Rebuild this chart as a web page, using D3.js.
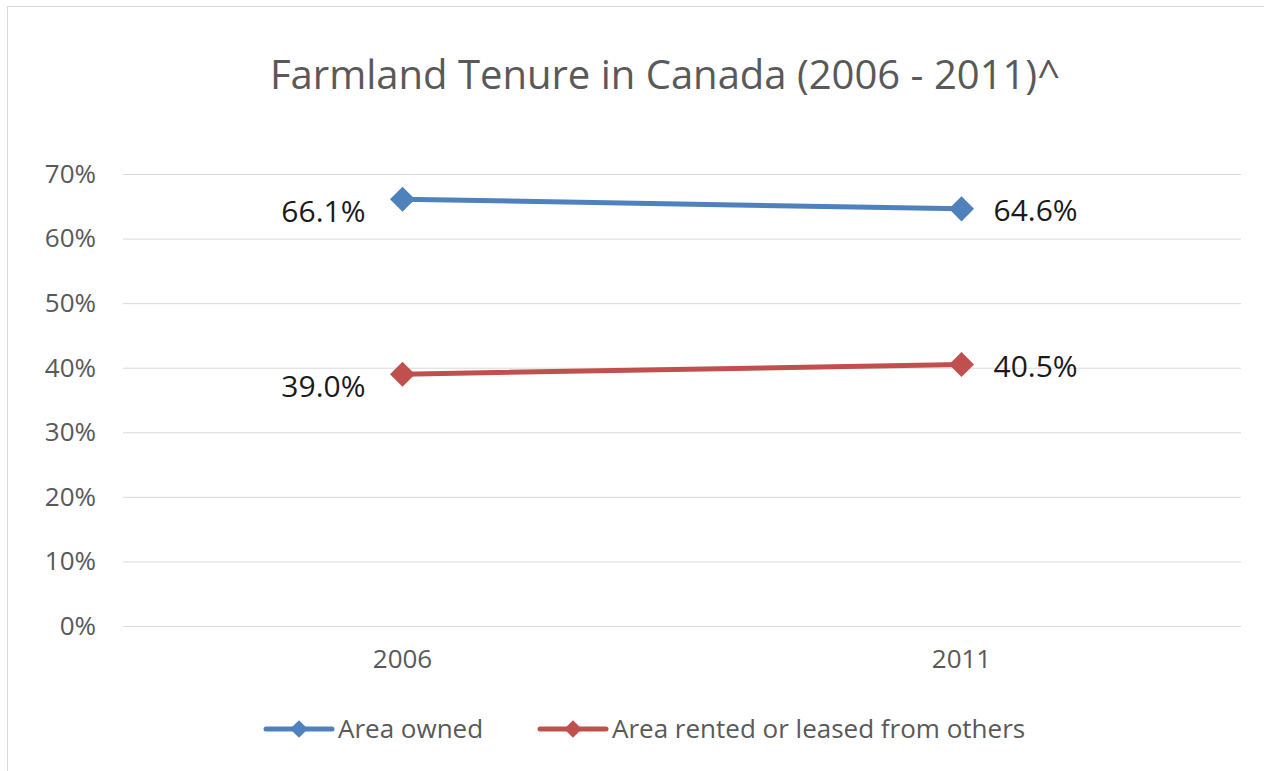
<!DOCTYPE html>
<html>
<head>
<meta charset="utf-8">
<script src="https://cdn.jsdelivr.net/npm/d3@7"></script>
<style>
  body { margin: 0; background: #fff; }
  svg text { font-family: "Open Sans", sans-serif; }
  .axis-label { fill: #595959; font-size: 26px; }
  .data-label { fill: #1a1a1a; font-size: 30px; }
  .chart-title { fill: #595959; font-size: 40px; }
</style>
</head>
<body>
<svg id="chart"></svg>
<script>
const years = ['2006', '2011'];
const ownedValues = [0.661, 0.646];
const rentedValues = [0.390, 0.405];
const seriesNames = ['Area owned', 'Area rented or leased from others'];
const yTicks = [0, 0.1, 0.2, 0.3, 0.4, 0.5, 0.6, 0.7];

class TenureLineChart {

  constructor(_config) {
    this.config = {
      parentElement: _config.parentElement,
      containerWidth: 1264,
      containerHeight: 771,
      margin: {top: 174, right: 23, bottom: 145, left: 123},
      colors: ['#4F81BD', '#C0504D']
    };
    this.initVis();
  }

  initVis() {
    let vis = this;

    vis.width = vis.config.containerWidth - vis.config.margin.left - vis.config.margin.right;
    vis.height = vis.config.containerHeight - vis.config.margin.top - vis.config.margin.bottom;

    vis.svg = d3.select(vis.config.parentElement)
        .attr('width', vis.config.containerWidth)
        .attr('height', vis.config.containerHeight);

    // chart area outline (right and bottom edges run off the picture)
    vis.svg.append('rect')
        .attr('x', 7.5)
        .attr('y', 6.5)
        .attr('width', 1300)
        .attr('height', 800)
        .attr('fill', 'none')
        .attr('stroke', '#d9d9d9');

    vis.svg.append('text')
        .attr('class', 'chart-title')
        .attr('x', 665)
        .attr('y', 89)
        .attr('text-anchor', 'middle')
        .text('Farmland Tenure in Canada (2006 - 2011)^');

    vis.chart = vis.svg.append('g')
        .attr('transform', `translate(${vis.config.margin.left},${vis.config.margin.top})`);

    vis.xScale = d3.scaleBand()
        .domain(years)
        .range([0, vis.width]);

    vis.yScale = d3.scaleLinear()
        .domain([0, 0.7])
        .range([vis.height, 0]);

    vis.yAxis = d3.axisLeft(vis.yScale)
        .tickValues(yTicks)
        .tickFormat(d3.format('.0%'))
        .tickSize(-vis.width)
        .tickPadding(27);

    vis.xAxis = d3.axisBottom(vis.xScale)
        .tickSize(0)
        .tickPadding(24);

    vis.yAxisG = vis.chart.append('g').attr('class', 'axis y-axis');
    vis.xAxisG = vis.chart.append('g')
        .attr('class', 'axis x-axis')
        .attr('transform', `translate(0,${vis.height})`);

    vis.updateVis();
  }

  updateVis() {
    let vis = this;
    vis.series = [
      {name: seriesNames[0], values: ownedValues, color: vis.config.colors[0]},
      {name: seriesNames[1], values: rentedValues, color: vis.config.colors[1]}
    ];
    vis.renderVis();
  }

  renderVis() {
    let vis = this;

    vis.yAxisG.call(vis.yAxis);
    vis.yAxisG.select('.domain').remove();
    vis.yAxisG.selectAll('.tick line').attr('stroke', '#d9d9d9');
    vis.yAxisG.selectAll('.tick text')
        .attr('class', 'axis-label')
        .attr('font-size', null)
        .attr('font-family', null);

    vis.xAxisG.call(vis.xAxis);
    vis.xAxisG.select('.domain').remove();
    vis.xAxisG.selectAll('.tick text')
        .attr('class', 'axis-label')
        .attr('font-size', null)
        .attr('font-family', null);

    const xPos = d => vis.xScale(d) + vis.xScale.bandwidth() / 2;
    const line = d3.line()
        .x((d, i) => xPos(years[i]))
        .y(d => vis.yScale(d));
    const diamond = d3.symbol().type(d3.symbolDiamond2).size(400);

    const groups = vis.chart.selectAll('.series')
        .data(vis.series)
      .join('g')
        .attr('class', 'series');

    groups.append('path')
        .attr('d', d => line(d.values))
        .attr('fill', 'none')
        .attr('stroke', d => d.color)
        .attr('stroke-width', 5)
        .attr('stroke-linecap', 'round');

    groups.selectAll('.marker')
        .data(d => d.values.map((v, i) => ({v, i, color: d.color})))
      .join('path')
        .attr('class', 'marker')
        .attr('d', diamond)
        .attr('fill', d => d.color)
        .attr('transform', d => `translate(${xPos(years[d.i])},${vis.yScale(d.v)})`);

    // labels sit left of the first point and right of the last
    groups.selectAll('.data-label')
        .data(d => d.values.map((v, i) => ({v, i})))
      .join('text')
        .attr('class', 'data-label')
        .attr('x', d => xPos(years[d.i]) + (d.i === 0 ? -37 : 32))
        .attr('y', d => vis.yScale(d.v))
        .attr('dy', d => d.i === 0 ? '0.75em' : '0.42em')
        .attr('text-anchor', d => d.i === 0 ? 'end' : 'start')
        .text(d => d3.format('.1%')(d.v));

    // legend
    const legendX = [266, 540];
    const legend = vis.svg.selectAll('.legend-item')
        .data(vis.series)
      .join('g')
        .attr('class', 'legend-item')
        .attr('transform', (d, i) => `translate(${legendX[i]},729)`);

    legend.append('line')
        .attr('x1', 0).attr('x2', 66)
        .attr('stroke', d => d.color)
        .attr('stroke-width', 5)
        .attr('stroke-linecap', 'round');

    legend.append('path')
        .attr('d', d3.symbol().type(d3.symbolDiamond2).size(200))
        .attr('transform', 'translate(33,0)')
        .attr('fill', d => d.color);

    legend.append('text')
        .attr('class', 'axis-label')
        .attr('x', 72)
        .attr('dy', '0.35em')
        .text(d => d.name);
  }
}

new TenureLineChart({parentElement: '#chart'});
</script>
</body>
</html>
